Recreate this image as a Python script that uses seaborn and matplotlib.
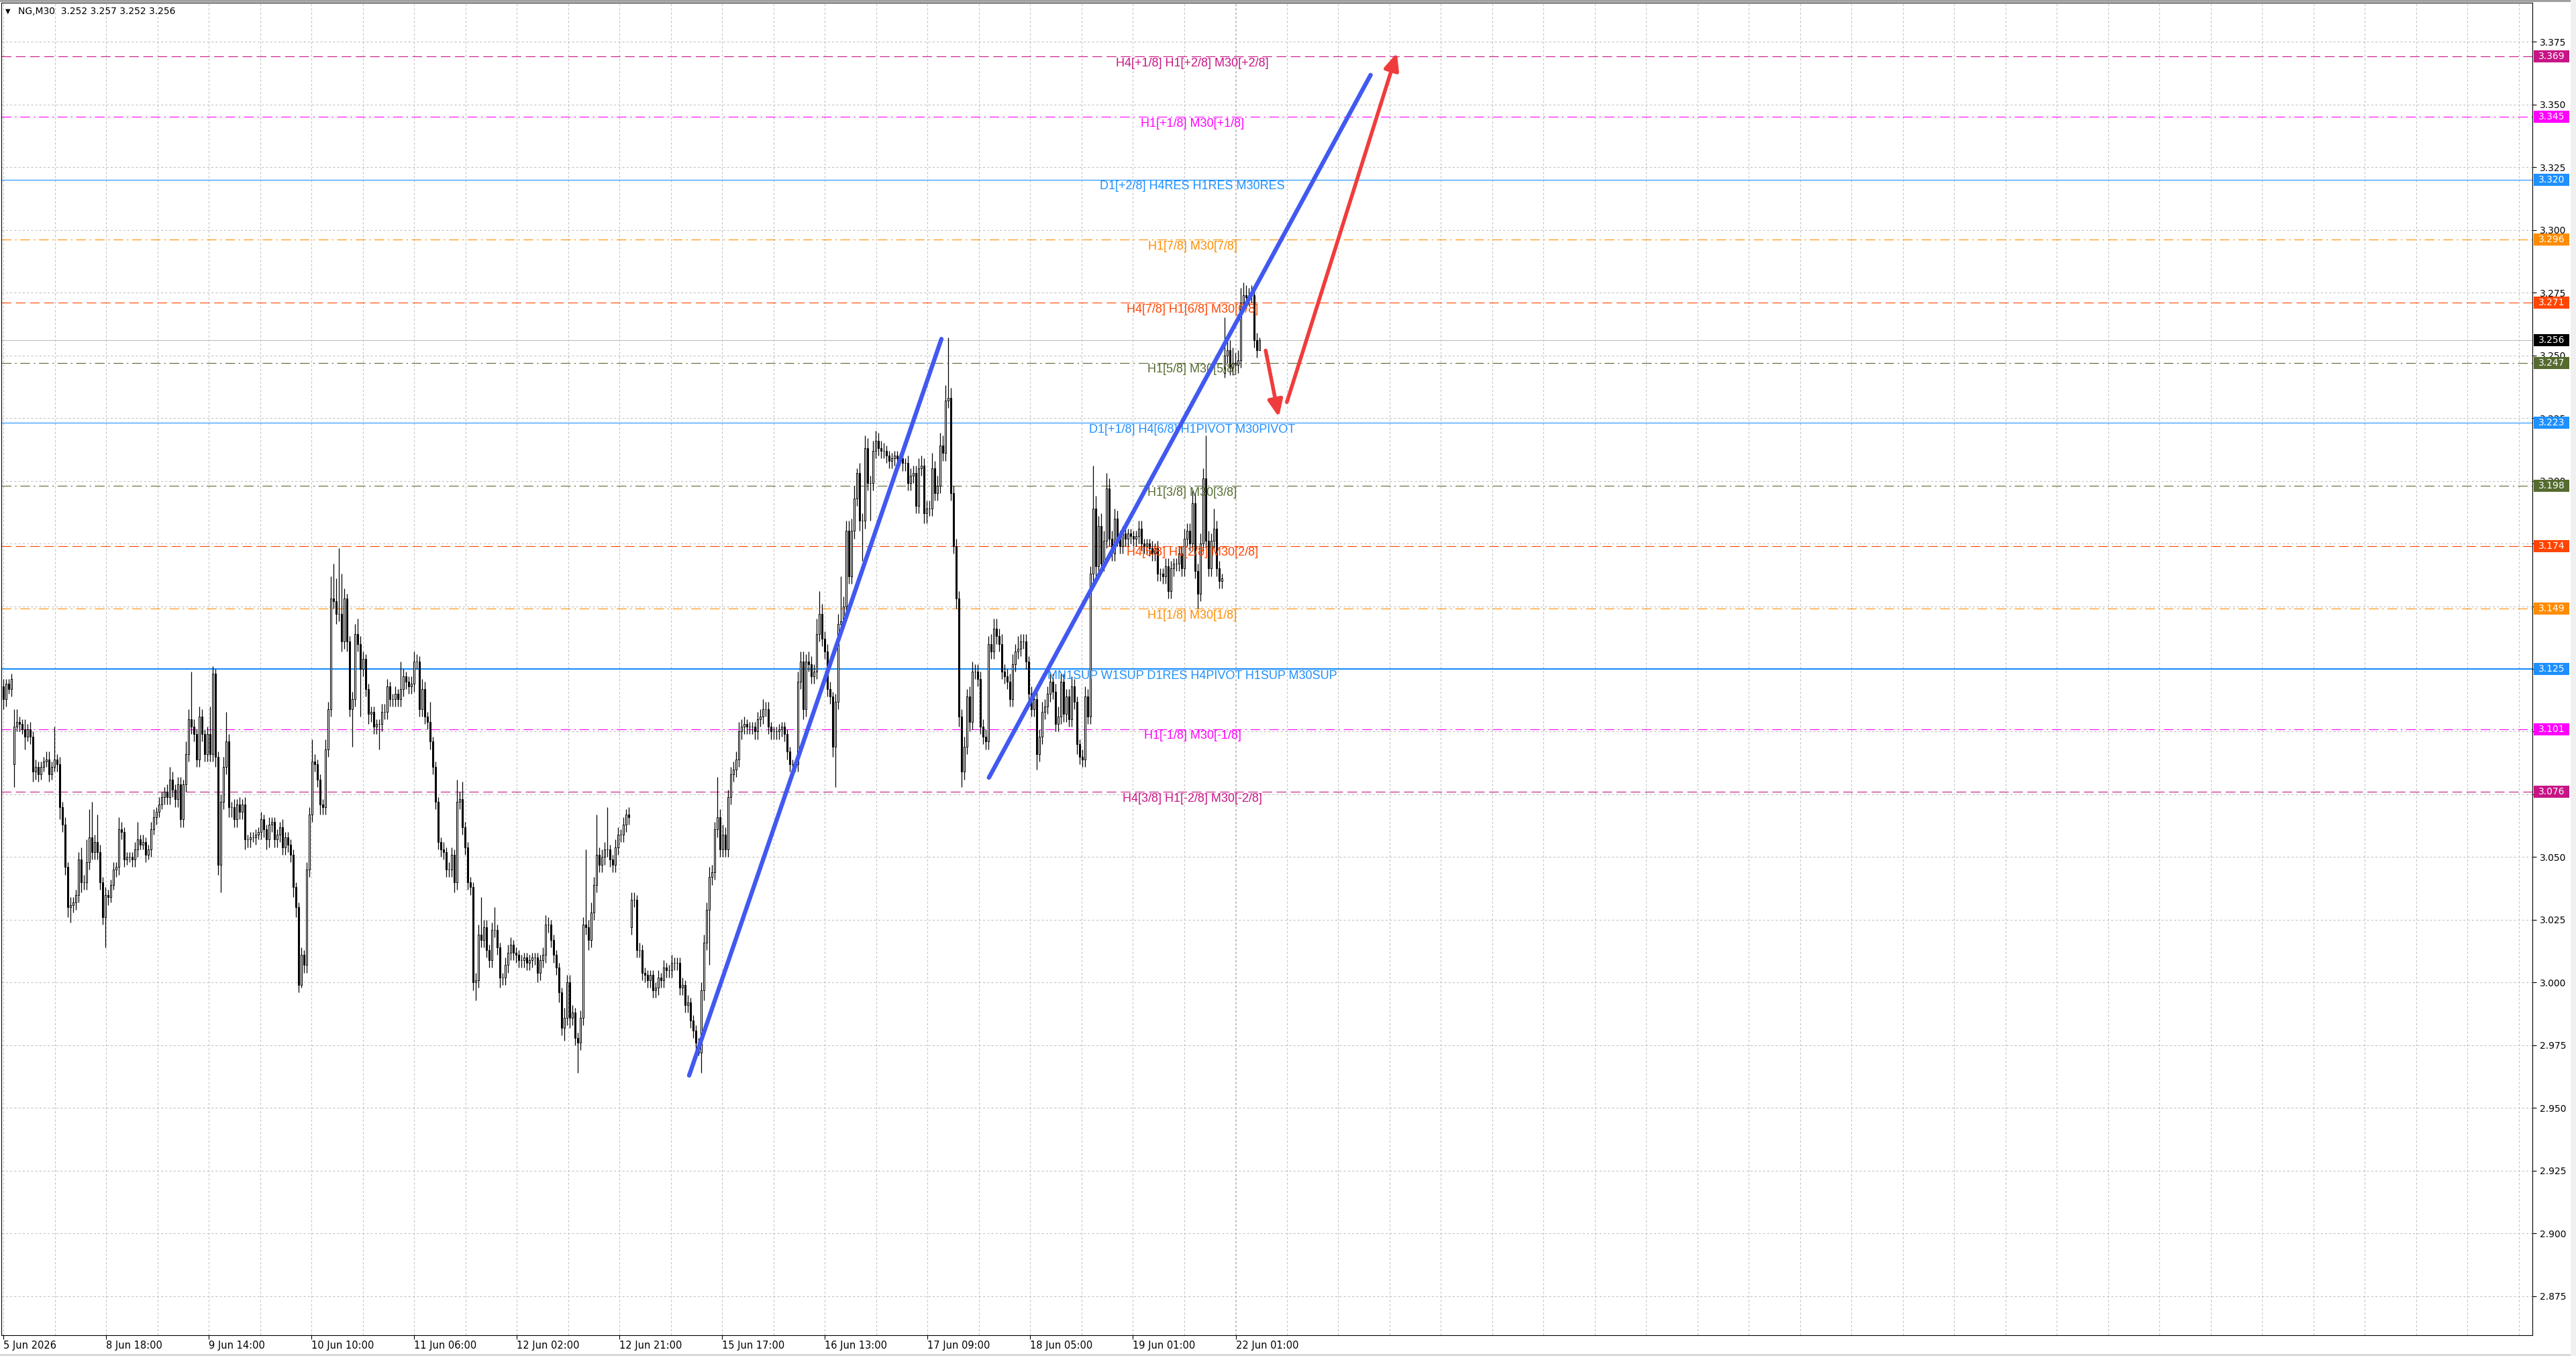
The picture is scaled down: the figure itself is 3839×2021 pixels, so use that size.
import numpy as np
import pandas as pd
import seaborn as sns
import matplotlib
matplotlib.use("Agg")
import matplotlib.pyplot as plt
from matplotlib.patches import Rectangle
from matplotlib.ticker import FuncFormatter
import matplotlib.transforms as mtransforms

# NG M30 candles, prices in 1/1000 (one value per bar)
close_k = [
    3113, 3119, 3117, 3121, 3102, 3104, 3103, 3101, 3098, 3101,
    3098, 3084, 3086, 3083, 3086, 3088, 3089, 3083, 3086, 3089,
    3087, 3070, 3063, 3046, 3030, 3031, 3032, 3035, 3049, 3040,
    3040, 3048, 3058, 3052, 3056, 3052, 3040, 3026, 3035, 3034,
    3039, 3045, 3046, 3061, 3060, 3049, 3050, 3050, 3049, 3053,
    3057, 3055, 3056, 3051, 3053, 3061, 3066, 3068, 3071, 3074,
    3076, 3074, 3081, 3077, 3073, 3079, 3065, 3079, 3091, 3105,
    3102, 3099, 3089, 3106, 3099, 3091, 3099, 3091, 3123, 3090,
    3047, 3072, 3086, 3096, 3070, 3070, 3065, 3071, 3068, 3071,
    3057, 3057, 3058, 3058, 3059, 3060, 3065, 3061, 3057, 3063,
    3064, 3057, 3059, 3062, 3054, 3058, 3055, 3051, 3038, 3030,
    2999, 3011, 3007, 3045, 3067, 3088, 3087, 3081, 3071, 3070,
    3093, 3109, 3153, 3152, 3147, 3147, 3136, 3153, 3136, 3109,
    3113, 3139, 3135, 3125, 3129, 3117, 3107, 3108, 3102, 3103,
    3103, 3108, 3108, 3118, 3113, 3113, 3115, 3113, 3117, 3122,
    3120, 3118, 3119, 3128, 3128, 3109, 3117, 3106, 3104, 3096,
    3086, 3072, 3056, 3053, 3052, 3045, 3045, 3051, 3040, 3072,
    3073, 3062, 3054, 3040, 3038, 3000, 3001, 3019, 3017, 3022,
    3013, 3009, 3021, 3021, 3014, 3002, 3002, 3007, 3012, 3015,
    3012, 3011, 3009, 3009, 3010, 3008, 3009, 3010, 3010, 3004,
    3009, 3011, 3023, 3023, 3017, 3011, 3006, 2996, 2982, 2986,
    3000, 2986, 2988, 2978, 2976, 2986, 3023, 3022, 3017, 3028,
    3039, 3051, 3047, 3050, 3053, 3053, 3049, 3047, 3054, 3059,
    3059, 3063, 3067, 3066, 3033, 3033, 3013, 3013, 3004, 3003,
    3001, 3003, 2997, 2998, 3002, 3001, 3006, 3005, 3005, 3008,
    3008, 3008, 2998, 2999, 2991, 2992, 2985, 2981, 2976, 2972,
    2997, 3016, 3029, 3042, 3044, 3061, 3066, 3053, 3059, 3053,
    3074, 3083, 3085, 3089, 3100, 3102, 3103, 3102, 3102, 3102,
    3100, 3105, 3106, 3109, 3109, 3102, 3100, 3100, 3100, 3101,
    3102, 3099, 3092, 3087, 3087, 3087, 3120, 3128, 3109, 3128,
    3127, 3122, 3124, 3139, 3147, 3137, 3132, 3117, 3114, 3094,
    3112, 3143, 3144, 3150, 3180, 3162, 3180, 3193, 3203, 3184,
    3184, 3213, 3199, 3199, 3212, 3216, 3213, 3212, 3212, 3210,
    3208, 3209, 3210, 3209, 3209, 3207, 3207, 3199, 3202, 3203,
    3190, 3205, 3206, 3187, 3189, 3189, 3205, 3195, 3198, 3214,
    3211, 3232, 3233, 3195, 3174, 3153, 3106, 3084, 3094, 3114,
    3104, 3124, 3124, 3121, 3102, 3098, 3096, 3135, 3132, 3141,
    3138, 3135, 3124, 3122, 3120, 3113, 3127, 3132, 3133, 3136,
    3136, 3128, 3115, 3109, 3113, 3091, 3098, 3108, 3110, 3115,
    3120, 3116, 3103, 3106, 3120, 3107, 3114, 3105, 3118, 3112,
    3095, 3090, 3089, 3114, 3106, 3163, 3189, 3166, 3182, 3167,
    3176, 3197, 3177, 3171, 3185, 3177, 3174, 3179, 3177, 3179,
    3178, 3177, 3178, 3181, 3175, 3174, 3175, 3173, 3171, 3173,
    3163, 3163, 3162, 3166, 3156, 3165, 3167, 3167, 3171, 3165,
    3177, 3180, 3175, 3191, 3164, 3155, 3175, 3201, 3176, 3165,
    3176, 3181, 3165, 3160, 3161, 3250, 3252, 3245, 3247, 3246,
    3248, 3271, 3274, 3273, 3274, 3274, 3256, 3252, 3256,
]

# wick length above / below the body, 1/1000
upper_wick_k = [
    3, 2, 2, 2, 7, 5, 2, 2, 4, 2,
    3, 2, 3, 2, 2, 2, 3, 3, 2, 13,
    2, 3, 2, 3, 2, 3, 2, 2, 3, 5,
    3, 9, 11, 14, 3, 11, 3, 2, 3, 2,
    2, 3, 2, 5, 3, 2, 2, 2, 2, 3,
    7, 2, 3, 2, 2, 3, 3, 2, 3, 2,
    2, 3, 5, 3, 2, 3, 3, 2, 5, 4,
    19, 3, 2, 4, 3, 2, 3, 11, 3, 2,
    2, 3, 4, 12, 3, 2, 3, 2, 3, 2,
    3, 2, 2, 2, 2, 2, 3, 2, 2, 3,
    2, 2, 2, 2, 3, 2, 2, 2, 2, 2,
    2, 3, 2, 3, 3, 9, 3, 2, 2, 2,
    4, 3, 9, 14, 9, 26, 16, 4, 2, 2,
    3, 4, 6, 3, 3, 2, 2, 2, 2, 2,
    2, 3, 3, 3, 2, 2, 3, 2, 11, 3,
    2, 2, 3, 4, 3, 2, 4, 3, 2, 8,
    2, 2, 2, 2, 3, 2, 3, 3, 2, 9,
    3, 7, 2, 2, 2, 2, 3, 4, 15, 3,
    3, 2, 3, 9, 2, 2, 2, 3, 3, 3,
    2, 2, 2, 2, 2, 2, 2, 2, 2, 2,
    2, 3, 4, 3, 2, 2, 2, 2, 2, 4,
    3, 3, 3, 2, 2, 3, 3, 30, 3, 4,
    3, 16, 3, 3, 3, 17, 2, 2, 3, 3,
    2, 3, 2, 3, 3, 3, 2, 3, 2, 2,
    2, 2, 2, 2, 3, 2, 3, 2, 2, 3,
    2, 2, 2, 3, 2, 3, 2, 2, 2, 2,
    3, 3, 3, 4, 3, 3, 16, 3, 4, 3,
    3, 3, 3, 3, 4, 3, 3, 2, 2, 2,
    2, 3, 3, 4, 3, 3, 2, 2, 2, 2,
    2, 2, 2, 2, 2, 2, 4, 4, 4, 3,
    4, 3, 3, 6, 9, 4, 3, 3, 3, 2,
    3, 4, 18, 4, 4, 4, 5, 5, 2, 4,
    3, 5, 4, 3, 4, 4, 3, 3, 3, 2,
    2, 2, 2, 2, 2, 2, 2, 3, 3, 3,
    3, 4, 4, 3, 3, 3, 6, 3, 4, 5,
    4, 6, 24, 4, 3, 3, 3, 3, 4, 3,
    4, 4, 3, 3, 3, 3, 3, 3, 4, 4,
    4, 3, 4, 3, 3, 3, 4, 3, 5, 3,
    3, 3, 2, 3, 3, 3, 3, 4, 3, 3,
    4, 3, 3, 4, 3, 3, 3, 3, 4, 3,
    2, 2, 3, 4, 3, 3, 17, 5, 4, 5,
    4, 6, 4, 3, 4, 3, 3, 3, 2, 2,
    2, 2, 2, 3, 3, 2, 2, 2, 3, 2,
    3, 2, 2, 3, 3, 3, 2, 2, 3, 3,
    4, 3, 3, 5, 4, 3, 4, 4, 17, 4,
    3, 8, 3, 3, 2, 15, 5, 4, 6, 4,
    4, 6, 5, 4, 3, 4, 3, 3, 1,
]

lower_wick_k = [
    4, 3, 2, 3, 9, 2, 3, 2, 5, 2,
    3, 4, 3, 3, 2, 2, 2, 3, 2, 2,
    3, 5, 3, 3, 4, 6, 3, 3, 3, 4,
    3, 3, 3, 3, 3, 3, 3, 3, 12, 3,
    2, 2, 3, 3, 3, 3, 2, 2, 3, 3,
    3, 2, 2, 3, 2, 3, 2, 3, 2, 2,
    3, 3, 3, 3, 3, 3, 3, 3, 3, 3,
    3, 3, 3, 3, 3, 3, 3, 3, 3, 4,
    4, 11, 3, 3, 4, 4, 3, 3, 3, 3,
    4, 3, 3, 2, 3, 2, 3, 3, 4, 3,
    3, 3, 3, 3, 3, 3, 3, 3, 4, 4,
    3, 1, 3, 3, 3, 3, 3, 3, 4, 3,
    3, 3, 3, 3, 4, 3, 4, 3, 4, 3,
    15, 3, 3, 19, 3, 3, 4, 3, 3, 3,
    10, 3, 3, 3, 3, 3, 3, 3, 3, 3,
    3, 3, 3, 3, 3, 3, 3, 3, 3, 3,
    3, 3, 3, 3, 3, 3, 3, 3, 4, 3,
    3, 3, 3, 3, 3, 3, 7, 3, 3, 3,
    3, 3, 3, 3, 3, 4, 3, 3, 3, 3,
    3, 3, 3, 3, 3, 3, 3, 3, 3, 4,
    3, 3, 3, 3, 3, 3, 3, 4, 3, 5,
    3, 4, 3, 3, 12, 3, 3, 3, 4, 3,
    3, 3, 3, 3, 3, 3, 3, 3, 3, 3,
    3, 3, 3, 3, 3, 3, 3, 3, 3, 3,
    3, 3, 3, 3, 3, 3, 3, 3, 3, 3,
    3, 3, 3, 3, 3, 3, 3, 3, 3, 1,
    8, 4, 3, 22, 3, 3, 3, 3, 3, 3,
    3, 3, 3, 3, 3, 3, 3, 3, 3, 3,
    3, 3, 3, 3, 3, 3, 3, 3, 3, 3,
    3, 3, 3, 3, 3, 3, 3, 3, 4, 3,
    3, 3, 3, 3, 3, 3, 3, 3, 3, 4,
    16, 3, 3, 3, 3, 3, 3, 3, 3, 4,
    16, 3, 3, 15, 3, 3, 3, 3, 3, 3,
    3, 3, 3, 3, 3, 3, 3, 3, 3, 3,
    3, 3, 3, 4, 4, 3, 3, 3, 3, 3,
    3, 3, 3, 3, 3, 4, 4, 6, 3, 3,
    4, 3, 3, 3, 3, 3, 3, 3, 3, 3,
    3, 3, 3, 3, 3, 3, 3, 3, 3, 3,
    3, 3, 3, 3, 3, 6, 3, 3, 3, 3,
    3, 3, 3, 3, 3, 3, 3, 3, 3, 3,
    4, 3, 3, 3, 3, 3, 3, 4, 3, 3,
    3, 3, 3, 3, 3, 3, 3, 3, 3, 3,
    3, 3, 3, 3, 3, 3, 3, 3, 3, 3,
    3, 3, 3, 3, 3, 3, 3, 3, 3, 3,
    3, 3, 3, 3, 3, 6, 3, 3, 3, 3,
    3, 3, 3, 3, 3, 2, 3, 3, 3, 3,
    3, 3, 3, 3, 3, 3, 3, 3, 0,
]

first_open_k = 3118
gap_open_k = {4: 3087, 234: 3022, 455: 3243}   # weekend gaps

levels = [3.369, 3.345, 3.320, 3.296, 3.271, 3.247, 3.223,
          3.198, 3.174, 3.149, 3.125, 3.101, 3.076]
level_names = [
    "H4[+1/8] H1[+2/8] M30[+2/8]",
    "H1[+1/8] M30[+1/8]",
    "D1[+2/8] H4RES H1RES M30RES",
    "H1[7/8] M30[7/8]",
    "H4[7/8] H1[6/8] M30[6/8]",
    "H1[5/8] M30[5/8]",
    "D1[+1/8] H4[6/8] H1PIVOT M30PIVOT",
    "H1[3/8] M30[3/8]",
    "H4[5/8] H1[2/8] M30[2/8]",
    "H1[1/8] M30[1/8]",
    "MN1SUP W1SUP D1RES H4PIVOT H1SUP M30SUP",
    "H1[-1/8] M30[-1/8]",
    "H4[3/8] H1[-2/8] M30[-2/8]",
]
level_colors = ["#C71585", "#FF00FF", "#1E90FF", "#FF8C00", "#FF4500", "#556B2F", "#1E90FF",
                "#556B2F", "#FF4500", "#FF8C00", "#1E90FF", "#FF00FF", "#C71585"]
level_kinds = ["dash", "dashdot", "solid", "dashdot", "dash", "dashdot", "solid",
               "dashdot", "dash", "dashdot", "thick", "dashdot", "dash"]

last_price = 3.256
header = "NG,M30  3.252 3.257 3.252 3.256"

time_labels = ["5 Jun 2026", "8 Jun 18:00", "9 Jun 14:00", "10 Jun 10:00", "11 Jun 06:00",
               "12 Jun 02:00", "12 Jun 21:00", "15 Jun 17:00", "16 Jun 13:00", "17 Jun 09:00",
               "18 Jun 05:00", "19 Jun 01:00", "22 Jun 01:00"]
time_label_bars = [0, 38.25, 76.5, 114.75, 153, 191.25, 229.5, 267.75, 306, 344.25,
                   382.5, 420.75, 459.25]

# hand drawn objects: (bar, price) end points
blue_lines = [((255.5, 2.963), (349.5, 3.2565)),
              ((367.2, 3.0817), (509.4, 3.3617))]
red_arrows = [((470.3, 3.2519), (475.2, 3.2254)),
              ((478.2, 3.2313), (519.2, 3.3705))]

# ---------------------------------------------------------------
df = pd.DataFrame({"close": np.array(close_k) / 1000.0})
df["open"] = df["close"].shift(1)
df.loc[0, "open"] = first_open_k / 1000.0
for i, v in gap_open_k.items():
    df.loc[i, "open"] = v / 1000.0
df["high"] = df[["open", "close"]].max(axis=1) + np.array(upper_wick_k) / 1000.0
df["low"] = df[["open", "close"]].min(axis=1) - np.array(lower_wick_k) / 1000.0
df["bar"] = np.arange(len(df))

sns.set_theme(style="white")
plt.rcParams["font.family"] = ["DejaVu Sans"]

W, H = 3839, 2021
fig = plt.figure(figsize=(W / 100, H / 100), dpi=100)
fig.patch.set_facecolor("white")
ax = fig.add_axes([2 / W, 31 / H, 3772 / W, 1986 / H])
ax.set_facecolor("white")

ax.set_xlim(-0.75, 942.25)
ax.set_ylim(2.85949, 3.39051)

# grid
ax.yaxis.tick_right()
ax.set_yticks(np.arange(2.875, 3.3751, 0.025))
ax.yaxis.set_major_formatter(FuncFormatter(lambda v, _: f"{v:.3f}"))
ax.set_xticks(time_label_bars)
ax.set_xticklabels(time_labels, ha="left")
ax.set_xticks(np.arange(19.125, 942, 19.125), minor=True)
grid_kw = dict(color="#C0C0C0", linestyle=(0, (3, 3)), linewidth=0.75)
ax.grid(True, axis="y", which="major", **grid_kw)
ax.grid(True, axis="x", which="both", **grid_kw)
ax.set_axisbelow(True)

ax.tick_params(axis="y", which="major", direction="out", length=4, width=0.8,
               pad=4, labelsize=10, colors="black", right=True, left=False)
ax.tick_params(axis="x", which="major", direction="out", length=4, width=0.8,
               pad=2, labelsize=10.5, colors="black", bottom=True)
ax.tick_params(axis="x", which="minor", length=0)
for sp in ax.spines.values():
    sp.set_color("black")
    sp.set_linewidth(0.8)

# level lines
styles = {"dash": dict(linestyle=(0, (13, 6)), linewidth=0.8),
          "dashdot": dict(linestyle=(0, (13, 5, 2, 5)), linewidth=0.8),
          "solid": dict(linestyle="-", linewidth=0.8),
          "thick": dict(linestyle="-", linewidth=1.6)}
for lvl, name, col, kind in zip(levels, level_names, level_colors, level_kinds):
    ax.axhline(lvl, color=col, zorder=1.6, **styles[kind])
    ax.text(443, lvl - 0.0027, name, color=col, ha="center", va="center",
            fontsize=13, family=["Liberation Sans", "DejaVu Sans"], zorder=4)
ax.axhline(last_price, color="#C0C0C0", linewidth=0.8, zorder=1.6)

# candles
up = df["close"] >= df["open"]
ax.vlines(df["bar"], df["low"], df["high"], color="black", linewidth=0.9, zorder=2.5)
ax.bar(df["bar"], (df["close"] - df["open"]).abs(),
       bottom=df[["open", "close"]].min(axis=1), width=0.6,
       color=np.where(up, "white", "black"), edgecolor="black", linewidth=0.75, zorder=3)

# trend lines and arrows
for (x0, y0), (x1, y1) in blue_lines:
    seg = pd.DataFrame({"bar": [x0, x1], "price": [y0, y1]})
    sns.lineplot(data=seg, x="bar", y="price", ax=ax, color="#4159F0", linewidth=4.6,
                 solid_capstyle="round", zorder=6, legend=False)
for (x0, y0), (x1, y1) in red_arrows:
    ax.annotate("", xy=(x1, y1), xytext=(x0, y0), zorder=6,
                arrowprops=dict(arrowstyle="-|>,head_length=0.75,head_width=0.33",
                                color="#F03C3C", lw=4.0, mutation_scale=20,
                                shrinkA=0, shrinkB=0, capstyle="round"))
ax.set_xlabel("")
ax.set_ylabel("")

# price boxes on the right scale
trans = mtransforms.blended_transform_factory(ax.transAxes, ax.transData)
box_w = 53 / 3772
box_h = 18 / 3740
for lvl, col in list(zip(levels, level_colors)) + [(last_price, "black")]:
    ax.add_patch(Rectangle((1.00053, lvl - box_h / 2), box_w, box_h, transform=trans,
                           facecolor=col, edgecolor="none", clip_on=False, zorder=7))
    ax.text(1.00053 + box_w / 2, lvl, f"{lvl:.3f}", transform=trans, color="white",
            ha="center", va="center", fontsize=10, clip_on=False, zorder=8)

# header
fig.text(8 / W, 1 - 17 / H, "\u25BC", fontsize=7, va="center", ha="left", color="black")
fig.text(27 / W, 1 - 17 / H, header, fontsize=10, va="center", ha="left", color="black")

# window frame
fig.patches.append(Rectangle((0, 1 - 3 / H), 1, 3 / H, transform=fig.transFigure,
                             facecolor="#A0A0A0", edgecolor="none", zorder=0))
fig.patches.append(Rectangle((0, 0), 1, 3 / H, transform=fig.transFigure,
                             facecolor="#D8D8D8", edgecolor="none", zorder=0))
fig.patches.append(Rectangle((1 - 8 / W, 0), 8 / W, 1, transform=fig.transFigure,
                             facecolor="#F0F0F0", edgecolor="none", zorder=0))

fig.savefig("out.png", dpi=100)
